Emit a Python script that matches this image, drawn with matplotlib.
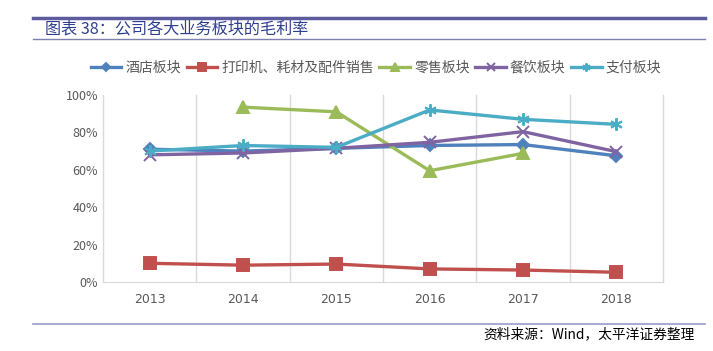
import matplotlib
matplotlib.use("Agg")
import matplotlib.pyplot as plt
from matplotlib.lines import Line2D
from matplotlib.ticker import PercentFormatter

plt.rcParams["font.family"] = ["Noto Sans CJK SC", "DejaVu Sans"]

years = ["2013", "2014", "2015", "2016", "2017", "2018"]
hotel    = [0.71, 0.70, 0.715, 0.73, 0.735, 0.675]
printer  = [0.10, 0.09, 0.096, 0.07, 0.064, 0.052]
retail   = [None, 0.935, 0.91, 0.595, 0.688, None]
catering = [0.68, 0.69, 0.715, 0.747, 0.804, 0.697]
payment  = [0.70, 0.73, 0.72, 0.92, 0.87, 0.843]

names   = ["酒店板块", "打印机、耗材及配件销售", "零售板块", "餐饮板块", "支付板块"]
colors  = ["#4F81BD", "#C0504D", "#9BBB59", "#8064A2", "#4BACC6"]
markers = ["D", "s", "^", "x", (6, 2, 0)]
sizes   = [6, 8.5, 8, 8, 9]

fig = plt.figure(figsize=(7.13, 3.51), dpi=100)
ax = fig.add_axes([103 / 713, 1 - 282 / 351, 560 / 713, 187 / 351])

x = list(range(len(years)))
handles = []
for vals, name, c, m, ms in zip([hotel, printer, retail, catering, payment],
                                names, colors, markers, sizes):
    xs = [i for i, v in zip(x, vals) if v is not None]
    ys = [v for v in vals if v is not None]
    h, = ax.plot(xs, ys, color=c, lw=2.4, marker=m, ms=ms,
                 markeredgecolor=c, markeredgewidth=1.4, label=name)
    handles.append(h)

ax.set_xlim(-0.5, 5.5)
ax.set_ylim(0, 1)
ax.set_xticks(x)
ax.set_xticklabels(years)
ax.set_yticks([0, 0.2, 0.4, 0.6, 0.8, 1.0])
ax.yaxis.set_major_formatter(PercentFormatter(1.0, decimals=0))
ax.tick_params(length=0, colors="#595959", labelsize=9)
ax.tick_params(axis="x", pad=8)
for lab in ax.get_xticklabels():
    lab.set_family("DejaVu Sans")

# vertical gridlines at category boundaries
for b in [-0.5, 0.5, 1.5, 2.5, 3.5, 4.5, 5.5]:
    ax.axvline(b, color="#D9D9D9", lw=1, zorder=0, clip_on=False)
for s in ["top", "right", "left"]:
    ax.spines[s].set_visible(False)
ax.spines["bottom"].set_color("#D9D9D9")

fig.legend(handles=handles, loc="center", bbox_to_anchor=(376 / 713, 1 - 68 / 351),
           ncol=5, frameon=False, fontsize=10, handlelength=2.2, markerscale=0.65,
           columnspacing=0.4, handletextpad=0.3, labelcolor="#595959")

# header / footer decoration
fig.add_artist(Line2D([33 / 713, 705 / 713], [1 - 18 / 351] * 2, color="#5B5B9E", lw=2.5))
fig.add_artist(Line2D([33 / 713, 705 / 713], [1 - 38.5 / 351] * 2, color="#8080B0", lw=1))
fig.text(45 / 713, 1 - 29 / 351, "图表 38：公司各大业务板块的毛利率", color="#2F3F8F",
         fontsize=11.6, va="center", ha="left")
fig.add_artist(Line2D([33 / 713, 705 / 713], [1 - 324 / 351] * 2, color="#9999CC", lw=1.2))
fig.text(695 / 713, 1 - 334 / 351, "资料来源：Wind，太平洋证券整理", color="#000000",
         fontsize=9.9, va="center", ha="right", style="italic")

fig.savefig("out.png", dpi=100)
